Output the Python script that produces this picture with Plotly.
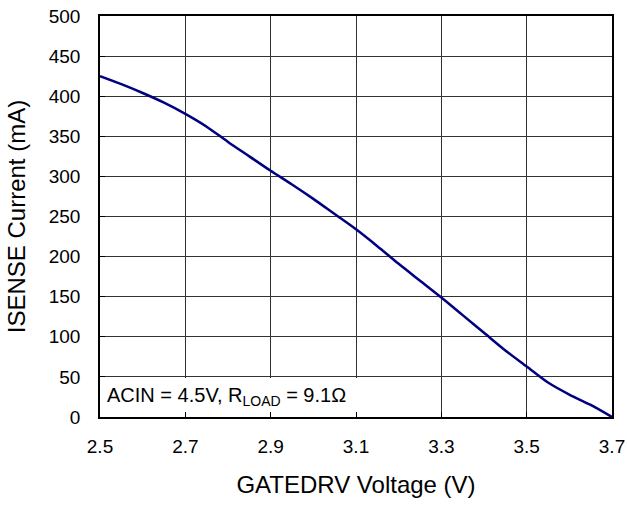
import plotly.graph_objects as go

voltage = [2.5, 2.55, 2.6, 2.65, 2.7, 2.75, 2.8, 2.85, 2.9, 2.95, 3.0, 3.05, 3.1, 3.15,
           3.2, 3.25, 3.3, 3.35, 3.4, 3.45, 3.5, 3.55, 3.6, 3.65, 3.7]
current = [425, 415, 404, 392, 378, 362, 343, 325, 307, 290, 272, 253, 234, 213,
           191, 170, 149, 127, 105, 83, 63, 43, 28, 15, 0]

x_ticks = [2.5, 2.7, 2.9, 3.1, 3.3, 3.5, 3.7]
y_ticks = [0, 50, 100, 150, 200, 250, 300, 350, 400, 450, 500]

FONT = "Liberation Sans, Arial, sans-serif"

fig = go.Figure()
fig.add_trace(go.Scatter(x=voltage, y=current, mode="lines",
                         line=dict(color="#000080", width=2.5, shape="spline", smoothing=0.8),
                         showlegend=False, hoverinfo="skip"))

fig.add_shape(type="rect", xref="x", yref="y", x0=2.503, x1=3.125, y0=1.5, y1=48.5,
              fillcolor="white", line=dict(width=0), layer="between")
fig.add_annotation(xref="x", yref="y", x=2.512, y=25, xanchor="left", yanchor="middle",
                   text="ACIN = 4.5V, R<sub>LOAD</sub> = 9.1Ω", showarrow=False,
                   font=dict(family=FONT, size=20, color="black"))

axis_common = dict(showline=True, linecolor="black", linewidth=1.5, mirror=True,
                   showgrid=True, gridcolor="#333333", gridwidth=1,
                   ticks="inside", ticklen=5, tickcolor="black",
                   tickfont=dict(family=FONT, size=19, color="black"),
                   zeroline=False, automargin=False)

fig.update_xaxes(range=[2.5, 3.7], tickvals=x_ticks, ticktext=[f"{v:.1f}" for v in x_ticks],
                 title=dict(text="GATEDRV Voltage (V)", font=dict(family=FONT, size=24, color="black"), standoff=21),
                 ticklabelstandoff=11, **axis_common)
fig.update_yaxes(range=[0, 500], tickvals=y_ticks,
                 title=dict(text="ISENSE Current (mA)", font=dict(family=FONT, size=24, color="black"), standoff=16),
                 ticklabelstandoff=14, **axis_common)

fig.update_layout(width=627, height=505, margin=dict(l=100, r=15, t=16, b=88),
                  plot_bgcolor="white", paper_bgcolor="white")

fig.write_html("out.html", config={"displayModeBar": False},
               post_script="document.body.style.margin='0';")
